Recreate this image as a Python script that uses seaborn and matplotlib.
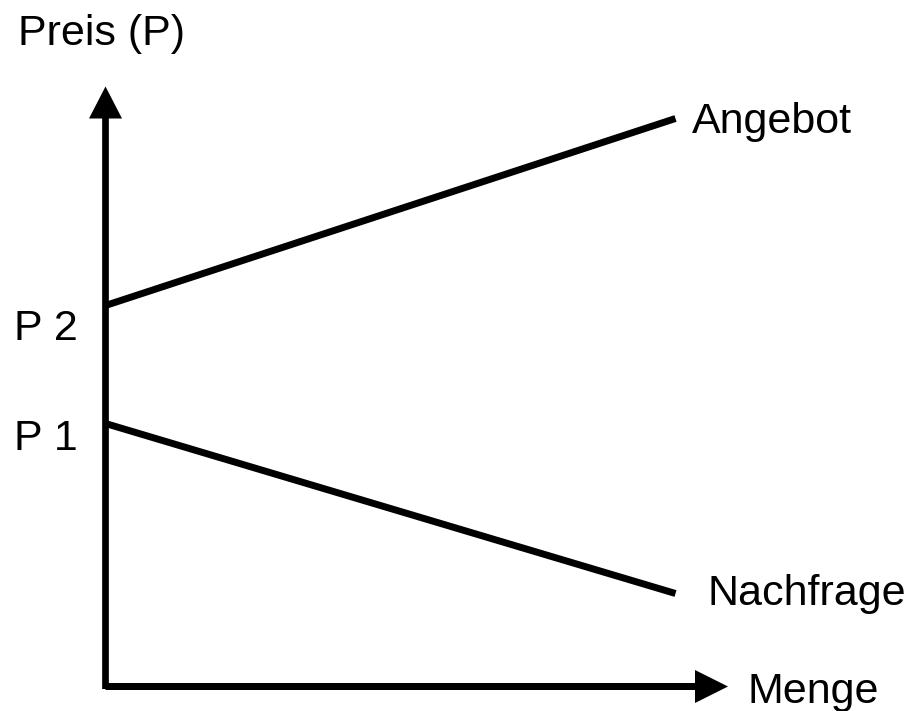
import matplotlib
matplotlib.use("Agg")
import matplotlib.pyplot as plt
import pandas as pd
import seaborn as sns

# supply / demand sketch (units ~ pixels from the origin)
menge = [0, 570]
angebot = [381, 568]
nachfrage = [263, 93]
p_levels = [250, 361]
p_labels = ["P 1", "P 2"]

df = pd.DataFrame({
    "Menge": menge * 2,
    "Preis": angebot + nachfrage,
    "Kurve": ["Angebot"] * 2 + ["Nachfrage"] * 2,
})

sns.set_theme(style="white")
plt.rcParams["font.family"] = ["Liberation Sans", "DejaVu Sans"]
plt.rcParams["text.color"] = "black"

fig = plt.figure(figsize=(9.11, 7.11), dpi=100)
ax = fig.add_axes([0, 0, 1, 1])
sns.lineplot(data=df, x="Menge", y="Preis", units="Kurve", estimator=None,
             color="black", linewidth=5, solid_capstyle="butt", ax=ax,
             legend=False)
ax.set_xlim(-105.5, 805.5)
ax.set_ylim(-24.5, 686.5)
ax.set_axis_off()

# axes with arrow heads
ax.arrow(0, -2.5, 0, 602.5, width=6.7, head_width=33, head_length=32,
         length_includes_head=True, color="black", lw=0)
ax.arrow(0, 0, 622.5, 0, width=7, head_width=33, head_length=33,
         length_includes_head=True, color="black", lw=0)

fs = 31
ax.text(-88, 641, "Preis (P)", fontsize=fs, va="baseline", ha="left")
for lvl, lab in zip(p_levels, p_labels):
    ax.text(-92, lvl - 14, lab, fontsize=fs, va="baseline", ha="left")
ax.text(586, 553, "Angebot", fontsize=fs, va="baseline", ha="left")
ax.text(602, 81, "Nachfrage", fontsize=fs, va="baseline", ha="left")
ax.text(642, -16.5, "Menge", fontsize=fs, va="baseline", ha="left")

plt.savefig("out.png", dpi=100)
